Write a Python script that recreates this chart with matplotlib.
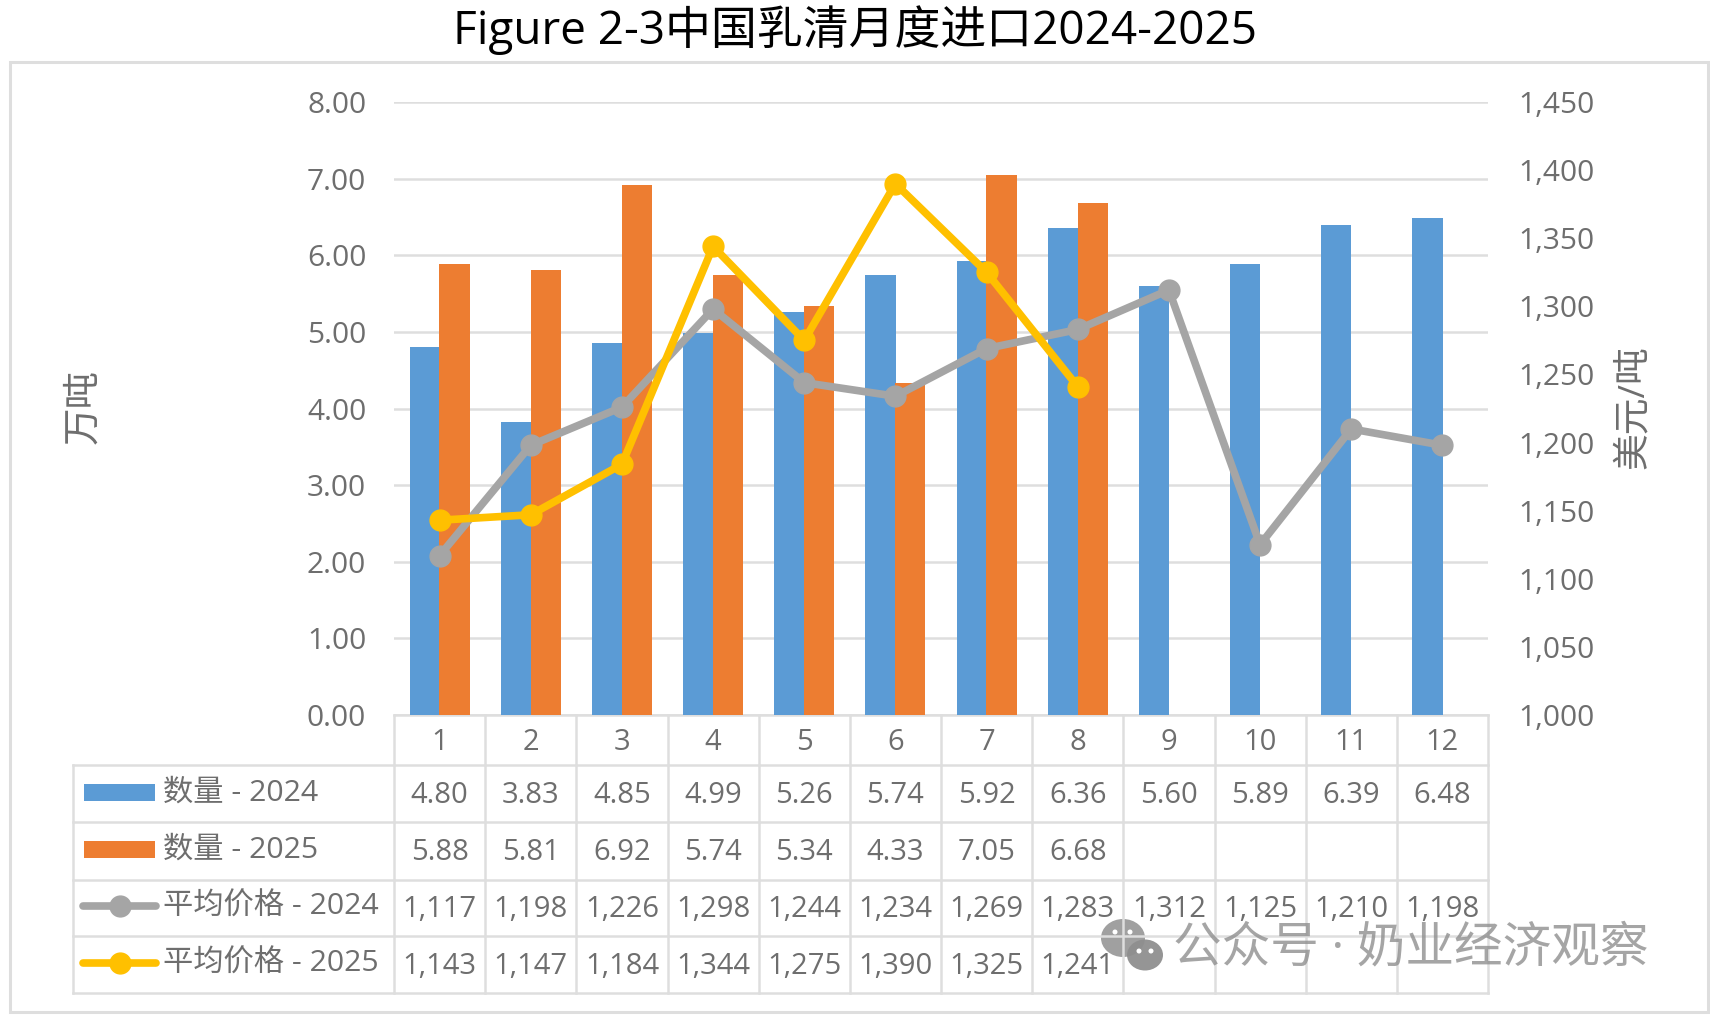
# -*- coding: utf-8 -*-
"""
whey imports by month, bars + price lines with an excel style data table under it
"""

import numpy as np
import matplotlib
matplotlib.use("Agg")
import matplotlib.pyplot as plt
from matplotlib.patches import Rectangle, Ellipse

plt.rcParams['font.family'] = ['Open Sans', 'Noto Sans CJK SC', 'DejaVu Sans']

months = [1, 2, 3, 4, 5, 6, 7, 8, 9, 10, 11, 12]
qty_2024 = [4.80, 3.83, 4.85, 4.99, 5.26, 5.74, 5.92, 6.36, 5.60, 5.89, 6.39, 6.48]
qty_2025 = [5.88, 5.81, 6.92, 5.74, 5.34, 4.33, 7.05, 6.68]
price_2024 = [1117, 1198, 1226, 1298, 1244, 1234, 1269, 1283, 1312, 1125, 1210, 1198]
price_2025 = [1143, 1147, 1184, 1344, 1275, 1390, 1325, 1241]
left_ticks = [0, 1, 2, 3, 4, 5, 6, 7, 8]
right_ticks = [1000, 1050, 1100, 1150, 1200, 1250, 1300, 1350, 1400, 1450]
row_names = ["数量 - 2024", "数量 - 2025", "平均价格 - 2024", "平均价格 - 2025"]

title = "Figure 2-3中国乳清月度进口2024-2025"
left_label = "万吨"
right_label = "美元/吨"
watermark = "公众号 · 奶业经济观察"

W, H = 1710, 1018
BLUE, ORANGE, GREY, YELLOW = "#5B9BD5", "#ED7D31", "#A5A5A5", "#FFC000"
TXT = "#6E6E6E"
LINE = "#DEDEDE"

# plot area and table in pixels
px_l, px_r, px_t, px_b = 394, 1488, 102, 715
tab_l = 73
row_y = [714.5, 765, 822, 879.5, 936, 993]
col_x = np.linspace(px_l, px_r, 13)

fig = plt.figure(figsize=(W / 100, H / 100), dpi=100)

# pixel overlay for the frame, title and table
ov = fig.add_axes([0, 0, 1, 1])
ov.set_xlim(0, W)
ov.set_ylim(H, 0)
ov.axis("off")

ov.add_patch(Rectangle((10, 62), 1698, 950, fill=False, ec=LINE, lw=2.2))
ov.text(855, 30, title, fontsize=33, color="black", ha="center", va="center")

ov.plot([px_l, px_r], [row_y[0], row_y[0]], color=LINE, lw=1.8)
ov.plot([px_r, px_r], [row_y[0], row_y[-1]], color=LINE, lw=1.8)
for x in col_x[:-1]:
    ov.plot([x, x], [row_y[0], row_y[-1]], color=LINE, lw=1.8)
for y in row_y[1:]:
    ov.plot([tab_l, px_r], [y, y], color=LINE, lw=1.8)
ov.plot([tab_l, tab_l], [row_y[1], row_y[-1]], color=LINE, lw=1.8)

centers = (col_x[:-1] + col_x[1:]) / 2
for c, m in zip(centers, months):
    ov.text(c, 743, str(m), fontsize=21, color=TXT, ha="center", va="center")

table_rows = [
    ["%.2f" % v for v in qty_2024],
    ["%.2f" % v for v in qty_2025],
    ["{:,}".format(v) for v in price_2024],
    ["{:,}".format(v) for v in price_2025],
]
for i, cells in enumerate(table_rows):
    mid = (row_y[i + 1] + row_y[i + 2]) / 2
    for c, s in zip(centers, cells):
        ov.text(c, mid + 2, s, fontsize=21, color=TXT, ha="center", va="center")
    ov.text(162.5, mid - 0.5, row_names[i], fontsize=21.8, color=TXT, ha="left", va="center")
    key_y = mid - 1.5
    if i < 2:
        ov.add_patch(Rectangle((84, key_y - 8.5), 71, 17, color=[BLUE, ORANGE][i], lw=0))
    else:
        ov.plot([83, 156], [key_y, key_y], color=[GREY, YELLOW][i - 2], lw=5.5,
                solid_capstyle="round")
        ov.plot([119.5], [key_y], color=[GREY, YELLOW][i - 2], marker="o", ms=15)

# axis captions
ov.text(83, 407, left_label, fontsize=27, color=TXT, rotation=90, ha="center", va="center")
ov.text(1634, 407, right_label, fontsize=26.5, color=TXT, rotation=90, ha="center", va="center")

# wechat style watermark
wm = "#8F8F8F"
ov.add_patch(Ellipse((1123, 938), 44, 38, color=wm, alpha=0.85, lw=0))
ov.add_patch(Ellipse((1145, 955), 36, 31, color=wm, alpha=0.95, lw=0, ec="white"))
for ex, ey in [(1115, 932), (1130, 932), (1139, 951), (1151, 951)]:
    ov.add_patch(Ellipse((ex, ey), 5, 5, color="white", lw=0))
ov.text(1411, 949, watermark, fontsize=35, color=wm, alpha=0.8, ha="center", va="center")

# bars and lines
ax = fig.add_axes([px_l / W, 1 - px_b / H, (px_r - px_l) / W, (px_b - px_t) / H])
ax.patch.set_alpha(0)
ax.bar(np.array(months) - 0.164, qty_2024, 0.33, color=BLUE, zorder=3)
ax.bar(np.array(months[:len(qty_2025)]) + 0.164, qty_2025, 0.33, color=ORANGE, zorder=3)
ax.set_xlim(0.5, 12.5)
ax.set_ylim(0, 8)
ax.set_yticks(left_ticks)
ax.set_yticklabels(["%.2f" % v for v in left_ticks], fontsize=21.5, color=TXT)
ax.set_xticks([])
ax.tick_params(axis="y", length=0, pad=20)
ax.grid(axis="y", color=LINE, lw=1.8, zorder=0)
ax.set_axisbelow(True)
for s in ax.spines.values():
    s.set_visible(False)

ax2 = ax.twinx()
ax2.plot(months, price_2024, color=GREY, lw=5.5, marker="o", ms=15)
ax2.plot(months[:len(price_2025)], price_2025, color=YELLOW, lw=5.5, marker="o", ms=15)
ax2.set_ylim(1000, 1450)
ax2.set_yticks(right_ticks)
ax2.set_yticklabels(["{:,}".format(v) for v in right_ticks], fontsize=21.5, color=TXT)
ax2.tick_params(axis="y", length=0, pad=22)
for s in ax2.spines.values():
    s.set_visible(False)

plt.savefig("out.png", dpi=100)
